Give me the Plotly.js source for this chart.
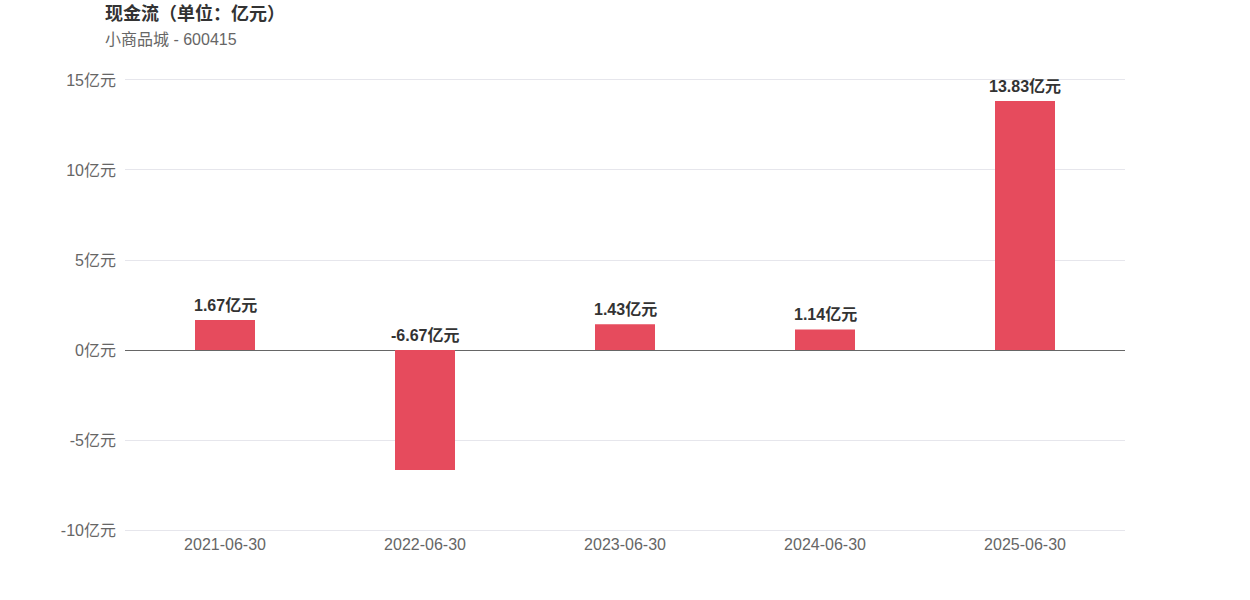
<!DOCTYPE html>
<html>
<head>
<meta charset="utf-8">
<script src="https://cdn.plot.ly/plotly-3.0.1.min.js"></script>
<style>
  body { margin: 0; background: #fff; }
  #chart { width: 1250px; height: 600px; }
</style>
</head>
<body>
<div id="chart"></div>
<script>
const dates = ['2021-06-30', '2022-06-30', '2023-06-30', '2024-06-30', '2025-06-30']
const cashFlow = [1.67, -6.67, 1.43, 1.14, 13.83]
const tickVals = [-10, -5, 0, 5, 10, 15]
const tickText = tickVals.map(v => v + '亿元')

const font = '"Liberation Sans", "Noto Sans CJK SC", sans-serif'

const trace = {
    x: dates,
    y: cashFlow,
    type: 'bar',
    marker: { color: '#e64b5d' },
    hoverinfo: 'x+y',
}

// labels sit above the bar top, or above the zero line for negative values
const labels = dates.map((d, i) => ({
    x: d,
    y: Math.max(cashFlow[i], 0),
    text: cashFlow[i].toFixed(2) + '亿元',
    showarrow: false,
    yanchor: 'bottom',
    yshift: 4,
    font: { family: font, size: 16, color: '#333', weight: 'bold' },
}))

const layout = {
    width: 1250,
    height: 600,
    margin: { l: 125, r: 125, t: 78, b: 68 },
    paper_bgcolor: '#fff',
    plot_bgcolor: '#fff',
    bargap: 0.7,
    showlegend: false,
    font: { family: font, color: '#666', size: 16 },
    xaxis: {
        type: 'category',
        showgrid: false,
        showline: false,
        ticks: '',
        ticklabelstandoff: 1,
        tickfont: { size: 16, color: '#666' },
    },
    yaxis: {
        // padded a little so the 15 and -10 grid lines are drawn
        range: [-10.11, 15.11],
        tickvals: tickVals,
        ticktext: tickText,
        gridcolor: '#e6e6ec',
        gridwidth: 1,
        zeroline: true,
        zerolinecolor: '#666',
        zerolinewidth: 1,
        ticks: '',
        ticklabelstandoff: 8,
        tickfont: { size: 16, color: '#666' },
    },
    annotations: [
        {
            xref: 'paper', yref: 'paper', x: -0.022, y: 1.143,
            xanchor: 'left', yanchor: 'middle', showarrow: false,
            text: '现金流（单位：亿元）',
            font: { family: font, size: 18, color: '#333', weight: 'bold' },
        },
        {
            xref: 'paper', yref: 'paper', x: -0.022, y: 1.084,
            xanchor: 'left', yanchor: 'middle', showarrow: false,
            text: '小商品城 - 600415',
            font: { family: font, size: 16, color: '#666' },
        },
        ...labels,
    ],
}

Plotly.newPlot('chart', [trace], layout, { displayModeBar: false })
</script>
</body>
</html>
